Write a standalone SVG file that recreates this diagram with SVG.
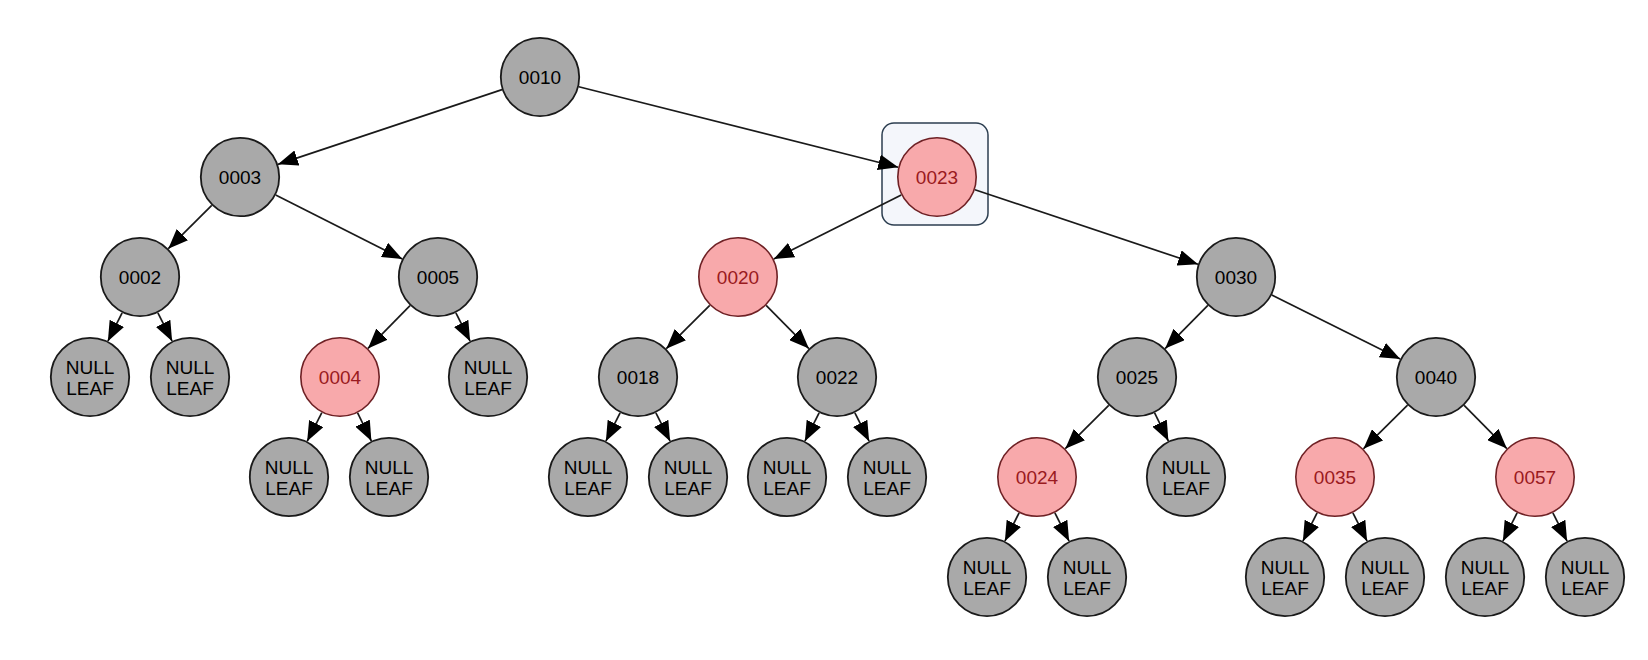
<svg xmlns="http://www.w3.org/2000/svg" width="1648" height="660" viewBox="0 0 1648 660">
<style>
.n circle{fill:#a9a9a9;stroke:#1a1a1a;stroke-width:1.8}
.r circle{fill:#f8a9ab;stroke:#6e2024;stroke-width:1.6}
text{font-family:"Liberation Sans",Arial,sans-serif;font-size:19px;text-anchor:middle;fill:#000}
.r text{fill:#9a1a20}
#edges line{stroke:#1a1a1a;stroke-width:1.7;marker-end:url(#ah)}
</style>
<defs>
<marker id="ah" markerUnits="userSpaceOnUse" markerWidth="20" markerHeight="16" refX="20" refY="8" orient="auto">
<path d="M0,0 L20,8 L0,16 z" fill="#000"/>
</marker>
</defs>
<rect width="1648" height="660" fill="#ffffff"/>
<rect id="selection" x="882" y="123" width="106" height="102" rx="12" ry="12" fill="#f4f6fb" stroke="#2c3e50" stroke-width="1.5"/>
<g id="edges">
<line x1="502.05" y1="89.65" x2="277.95" y2="164.35"/>
<line x1="578.79" y1="86.77" x2="898.21" y2="167.23"/>
<line x1="211.72" y1="205.28" x2="168.28" y2="248.72"/>
<line x1="275.70" y1="195.03" x2="402.30" y2="258.97"/>
<line x1="122.11" y1="312.78" x2="107.89" y2="341.22"/>
<line x1="157.89" y1="312.78" x2="172.11" y2="341.22"/>
<line x1="410.00" y1="305.57" x2="368.00" y2="348.43"/>
<line x1="455.89" y1="312.78" x2="470.11" y2="341.22"/>
<line x1="321.83" y1="412.64" x2="307.17" y2="441.36"/>
<line x1="357.60" y1="412.92" x2="371.40" y2="441.08"/>
<line x1="901.26" y1="194.96" x2="773.74" y2="259.04"/>
<line x1="974.94" y1="189.69" x2="1198.06" y2="264.31"/>
<line x1="709.72" y1="305.28" x2="666.28" y2="348.72"/>
<line x1="766.14" y1="305.42" x2="808.86" y2="348.58"/>
<line x1="620.11" y1="412.78" x2="605.89" y2="441.22"/>
<line x1="655.89" y1="412.78" x2="670.11" y2="441.22"/>
<line x1="819.11" y1="412.78" x2="804.89" y2="441.22"/>
<line x1="854.89" y1="412.78" x2="869.11" y2="441.22"/>
<line x1="1207.86" y1="305.42" x2="1165.14" y2="348.58"/>
<line x1="1271.78" y1="294.89" x2="1400.22" y2="359.11"/>
<line x1="1108.72" y1="405.28" x2="1065.28" y2="448.72"/>
<line x1="1154.60" y1="412.92" x2="1168.40" y2="441.08"/>
<line x1="1019.11" y1="512.78" x2="1004.89" y2="541.22"/>
<line x1="1054.89" y1="512.78" x2="1069.11" y2="541.22"/>
<line x1="1407.58" y1="405.14" x2="1363.42" y2="448.86"/>
<line x1="1464.14" y1="405.42" x2="1506.86" y2="448.58"/>
<line x1="1317.11" y1="512.78" x2="1302.89" y2="541.22"/>
<line x1="1352.89" y1="512.78" x2="1367.11" y2="541.22"/>
<line x1="1517.11" y1="512.78" x2="1502.89" y2="541.22"/>
<line x1="1552.89" y1="512.78" x2="1567.11" y2="541.22"/>
</g>
<g id="n0010" class="n"><circle cx="540" cy="77" r="39.2"/><text x="540" y="84">0010</text></g>
<g id="n0003" class="n"><circle cx="240" cy="177" r="39.2"/><text x="240" y="184">0003</text></g>
<g id="n0023" class="r"><circle cx="937" cy="177" r="39.2"/><text x="937" y="184">0023</text></g>
<g id="n0002" class="n"><circle cx="140" cy="277" r="39.2"/><text x="140" y="284">0002</text></g>
<g id="n0005" class="n"><circle cx="438" cy="277" r="39.2"/><text x="438" y="284">0005</text></g>
<g id="n0020" class="r"><circle cx="738" cy="277" r="39.2"/><text x="738" y="284">0020</text></g>
<g id="n0030" class="n"><circle cx="1236" cy="277" r="39.2"/><text x="1236" y="284">0030</text></g>
<g id="leaf1" class="n"><circle cx="90" cy="377" r="39.2"/><text x="90" y="374">NULL</text><text x="90" y="395">LEAF</text></g>
<g id="leaf2" class="n"><circle cx="190" cy="377" r="39.2"/><text x="190" y="374">NULL</text><text x="190" y="395">LEAF</text></g>
<g id="n0004" class="r"><circle cx="340" cy="377" r="39.2"/><text x="340" y="384">0004</text></g>
<g id="leaf3" class="n"><circle cx="488" cy="377" r="39.2"/><text x="488" y="374">NULL</text><text x="488" y="395">LEAF</text></g>
<g id="n0018" class="n"><circle cx="638" cy="377" r="39.2"/><text x="638" y="384">0018</text></g>
<g id="n0022" class="n"><circle cx="837" cy="377" r="39.2"/><text x="837" y="384">0022</text></g>
<g id="n0025" class="n"><circle cx="1137" cy="377" r="39.2"/><text x="1137" y="384">0025</text></g>
<g id="n0040" class="n"><circle cx="1436" cy="377" r="39.2"/><text x="1436" y="384">0040</text></g>
<g id="leaf4" class="n"><circle cx="289" cy="477" r="39.2"/><text x="289" y="474">NULL</text><text x="289" y="495">LEAF</text></g>
<g id="leaf5" class="n"><circle cx="389" cy="477" r="39.2"/><text x="389" y="474">NULL</text><text x="389" y="495">LEAF</text></g>
<g id="leaf6" class="n"><circle cx="588" cy="477" r="39.2"/><text x="588" y="474">NULL</text><text x="588" y="495">LEAF</text></g>
<g id="leaf7" class="n"><circle cx="688" cy="477" r="39.2"/><text x="688" y="474">NULL</text><text x="688" y="495">LEAF</text></g>
<g id="leaf8" class="n"><circle cx="787" cy="477" r="39.2"/><text x="787" y="474">NULL</text><text x="787" y="495">LEAF</text></g>
<g id="leaf9" class="n"><circle cx="887" cy="477" r="39.2"/><text x="887" y="474">NULL</text><text x="887" y="495">LEAF</text></g>
<g id="n0024" class="r"><circle cx="1037" cy="477" r="39.2"/><text x="1037" y="484">0024</text></g>
<g id="leaf10" class="n"><circle cx="1186" cy="477" r="39.2"/><text x="1186" y="474">NULL</text><text x="1186" y="495">LEAF</text></g>
<g id="n0035" class="r"><circle cx="1335" cy="477" r="39.2"/><text x="1335" y="484">0035</text></g>
<g id="n0057" class="r"><circle cx="1535" cy="477" r="39.2"/><text x="1535" y="484">0057</text></g>
<g id="leaf11" class="n"><circle cx="987" cy="577" r="39.2"/><text x="987" y="574">NULL</text><text x="987" y="595">LEAF</text></g>
<g id="leaf12" class="n"><circle cx="1087" cy="577" r="39.2"/><text x="1087" y="574">NULL</text><text x="1087" y="595">LEAF</text></g>
<g id="leaf13" class="n"><circle cx="1285" cy="577" r="39.2"/><text x="1285" y="574">NULL</text><text x="1285" y="595">LEAF</text></g>
<g id="leaf14" class="n"><circle cx="1385" cy="577" r="39.2"/><text x="1385" y="574">NULL</text><text x="1385" y="595">LEAF</text></g>
<g id="leaf15" class="n"><circle cx="1485" cy="577" r="39.2"/><text x="1485" y="574">NULL</text><text x="1485" y="595">LEAF</text></g>
<g id="leaf16" class="n"><circle cx="1585" cy="577" r="39.2"/><text x="1585" y="574">NULL</text><text x="1585" y="595">LEAF</text></g>
</svg>
